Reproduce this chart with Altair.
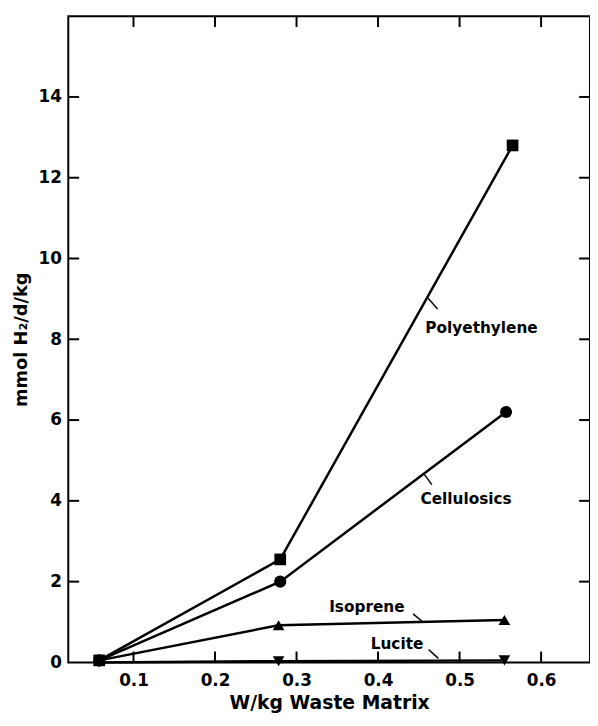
import altair as alt
import pandas as pd

# ---- data ----
series_names = ["Polyethylene", "Cellulosics", "Isoprene", "Lucite"]
poly_x = [0.058, 0.280, 0.565]
poly_y = [0.05, 2.55, 12.8]
cell_x = [0.058, 0.280, 0.557]
cell_y = [0.05, 2.0, 6.2]
iso_x = [0.058, 0.278, 0.555]
iso_y = [0.05, 0.92, 1.05]
luc_x = [0.058, 0.278, 0.555]
luc_y = [0.0, 0.03, 0.05]

x_ticks = [0.1, 0.2, 0.3, 0.4, 0.5, 0.6]
y_ticks = [0, 2, 4, 6, 8, 10, 12, 14]

# annotation labels (text position) and leader lines
label_text = ["Polyethylene", "Cellulosics", "Isoprene", "Lucite"]
label_x = [0.458, 0.452, 0.340, 0.391]
label_y = [8.29, 4.04, 1.37, 0.46]
leader_x1 = [0.460, 0.457, 0.443, 0.462]
leader_y1 = [9.05, 4.65, 1.20, 0.32]
leader_x2 = [0.473, 0.466, 0.455, 0.474]
leader_y2 = [8.75, 4.40, 1.00, 0.10]

W, H = 528, 654
FONT = "DejaVu Sans"

rows = []
data_map = {"Polyethylene": (poly_x, poly_y), "Cellulosics": (cell_x, cell_y),
            "Isoprene": (iso_x, iso_y), "Lucite": (luc_x, luc_y)}
for name in series_names:
    xs, ys = data_map[name]
    for xv, yv in zip(xs, ys):
        rows.append({"series": name, "x": xv, "y": yv})
df = pd.DataFrame(rows)

lab_df = pd.DataFrame({"text": label_text, "x": label_x, "y": label_y})
lead_df = pd.DataFrame({"x": leader_x1, "y": leader_y1,
                        "x2": leader_x2, "y2": leader_y2})
xt_df = pd.DataFrame({"t": x_ticks})
yt_df = pd.DataFrame({"t": y_ticks})

xscale = alt.Scale(domain=[0.02, 0.66], nice=False, zero=False)
yscale = alt.Scale(domain=[0, 16], nice=False)

x_axis = alt.Axis(values=x_ticks, format=".1f", ticks=False, domain=False,
                  grid=False, labelFont=FONT, labelFontSize=17,
                  labelFontWeight="bold", labelPadding=10,
                  title="W/kg Waste Matrix", titleFont=FONT,
                  titleFontSize=19, titleFontWeight="bold", titlePadding=6,
                  labelColor="black", titleColor="black")
y_axis = alt.Axis(values=y_ticks, format="d", ticks=False, domain=False,
                  grid=False, labelFont=FONT, labelFontSize=17,
                  labelFontWeight="bold", labelPadding=7,
                  title="mmol H₂/d/kg", titleFont=FONT, titleFontSize=18,
                  titleFontWeight="bold", titlePadding=8,
                  labelColor="black", titleColor="black")

X = alt.X("x:Q", scale=xscale, axis=x_axis)
Y = alt.Y("y:Q", scale=yscale, axis=y_axis)

shape_enc = alt.Shape("series:N", legend=None,
                      scale=alt.Scale(domain=series_names,
                                      range=["square", "circle",
                                             "triangle-up", "triangle-down"]))

lines = alt.Chart(df).mark_line(color="black", strokeWidth=2.5).encode(
    x=X, y=Y, detail="series:N")

points_other = alt.Chart(df).transform_filter(
    alt.datum.series != "Cellulosics"
).mark_point(filled=True, color="black", opacity=1, size=140).encode(
    x="x:Q", y="y:Q", shape=shape_enc)

# Cellulosics drawn last so its round marker covers the shared first point
points_cell = alt.Chart(df).transform_filter(
    alt.datum.series == "Cellulosics"
).mark_point(filled=True, color="black", opacity=1, size=150).encode(
    x="x:Q", y="y:Q", shape=shape_enc)

labels = alt.Chart(lab_df).mark_text(align="left", baseline="middle",
                                     font=FONT, fontSize=15.5,
                                     fontWeight="bold", color="black").encode(
    x="x:Q", y="y:Q", text="text:N")

leaders = alt.Chart(lead_df).mark_rule(color="black", strokeWidth=1.5).encode(
    x="x:Q", y="y:Q", x2="x2:Q", y2="y2:Q")

TL = 11
bottom_ticks = alt.Chart(xt_df).mark_rule(color="black", strokeWidth=2).encode(
    x="t:Q", y=alt.value(H), y2=alt.value(H - TL))
top_ticks = alt.Chart(xt_df).mark_rule(color="black", strokeWidth=2).encode(
    x="t:Q", y=alt.value(0), y2=alt.value(TL))
left_ticks = alt.Chart(yt_df[yt_df.t > 0]).mark_rule(color="black",
                                                     strokeWidth=2).encode(
    y="t:Q", x=alt.value(0), x2=alt.value(TL))
right_ticks = alt.Chart(yt_df[yt_df.t > 0]).mark_rule(color="black",
                                                      strokeWidth=2).encode(
    y="t:Q", x=alt.value(W), x2=alt.value(W - TL))

chart = alt.layer(lines, points_other, points_cell, leaders, labels,
                  bottom_ticks, top_ticks, left_ticks, right_ticks).properties(
    width=W, height=H,
    autosize=alt.AutoSizeParams(type="none"),
    padding={"left": 61, "top": 4, "right": 0, "bottom": 52},
    background="white",
).configure_view(stroke="black", strokeWidth=2)

chart.save("out.html", embed_options={"renderer": "svg", "actions": False})
